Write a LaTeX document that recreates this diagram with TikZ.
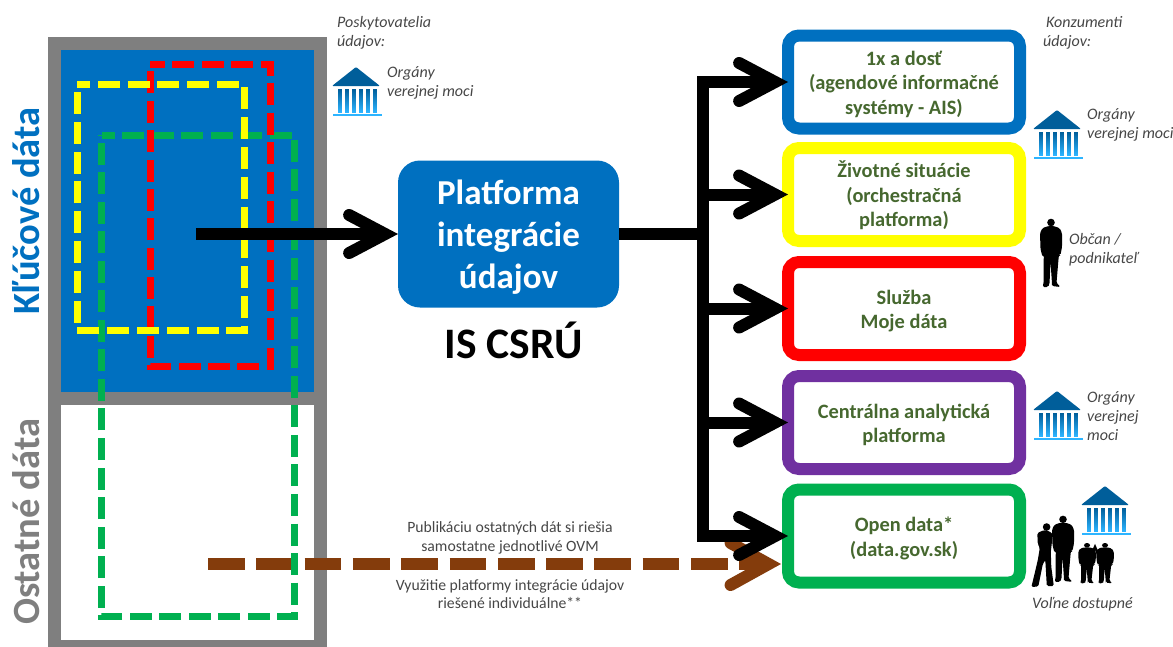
\documentclass[tikz,border=0pt]{standalone}
\usepackage{fontspec}
\setmainfont{Carlito}
\usetikzlibrary{arrows.meta}
\newcommand{\lProviders}{Poskytovatelia\\údajov:}
\newcommand{\lConsumers}{\hspace*{3pt}Konzumenti\\údajov:}
\newcommand{\lAuthorities}{Orgány\\verejnej moci}
\newcommand{\lAuthoritiesLong}{Orgány\\verejnej\\moci}
\newcommand{\lCitizen}{Občan /\\podnikateľ}
\newcommand{\lFree}{Voľne dostupné}
\newcommand{\lLift}{\rule{0pt}{19pt}}
\definecolor{themeBlue}{RGB}{0, 112, 192}
\definecolor{themeYellow}{RGB}{255, 255, 0}
\definecolor{themeRed}{RGB}{255, 0, 0}
\definecolor{themeGreen}{RGB}{0, 176, 80}
\definecolor{themePurple}{RGB}{112, 48, 160}
\definecolor{themeBrown}{RGB}{132, 60, 12}
\definecolor{themeGrey}{RGB}{127, 127, 127}
\definecolor{themeOlive}{RGB}{70, 104, 47}
\definecolor{themeNote}{RGB}{70, 70, 70}
\definecolor{themeRoof}{RGB}{0, 94, 154}
\definecolor{themeColumn}{RGB}{45, 180, 255}
\begin{document}
\begin{tikzpicture} [
        x=1pt, y=-1pt,
        barb/.tip={Straight Barb[length=36pt, width=38pt, line width=12pt, line cap=round, line join=miter]},
        flow/.style={line width=12pt, black},
        part/.style={draw=themeGrey, line width=13pt, minimum width=266pt, outer sep=0pt},
        side/.style={rotate=90, font=\fontsize{38.5}{40}\selectfont\bfseries},
        dset/.style args={#1/#2}{line width=7pt, dash pattern=on 22pt off #1pt, dash phase=#2pt},
        svc/.style={draw=#1, fill=white, line width=12pt, rounded corners=11pt, outer sep=0pt,
            minimum width=232pt, minimum height=93pt, align=center, text=themeOlive,
            font=\fontsize{20.4}{24.5}\selectfont\bfseries},
        note/.style={align=left, anchor=west, inner sep=0pt, text=themeNote,
            font=\fontsize{16}{19}\selectfont\itshape},
        remark/.style={align=center, inner sep=0pt, text=themeNote,
            font=\fontsize{15.7}{18.5}\selectfont},
        bank/.pic={
            \fill[themeRoof, rounded corners=1pt] (0,19) -- (24,0) -- (48,19) -- cycle;
            \foreach \i in {0, ..., 5} {
                \shade[top color=themeRoof, bottom color=themeColumn] (6+7*\i,22) rectangle +(3.8,23);
            }
            \fill[themeColumn] (1,47) rectangle (50,49);
        },
        person/.pic={
            \fill (0,5.5) circle (3.8);
            \fill[rounded corners=1.5pt] (-2.5,9) -- (-8.5,11) -- (-11,16) -- (-10.5,32) -- (-8.5,40) -- (-7,38)
                -- (-7.5,45) -- (-7.5,67) -- (-8.5,70) -- (-3,70) -- (-1.5,67) -- (-.5,44) -- (1,67) -- (1,69)
                -- (9.5,70) -- (5.5,66) -- (7.5,42) -- (8,38) -- (9.5,38) -- (11,30) -- (11,16) -- (8.5,11)
                -- (2.5,9) -- cycle;
        },
        woman/.pic={
            \fill (3.3,5) circle (3.8);
            \fill[rounded corners=1.5pt] (1,8) -- (-6,11) -- (-5.5,22) -- (-3.5,26) -- (-5.5,38) -- (-9.5,55)
                -- (-12,65) -- (-5,64.5) -- (-.5,42) -- (2,38) -- (3.5,64) -- (10.5,64) -- (8,45) -- (7.5,30)
                -- (9.5,12) -- (5.5,9) -- cycle;
        }
    ]

\useasboundingbox (0,0) rectangle (1173,646);

% left column
\node[part, fill=themeBlue, minimum height=355pt] (key) at (187,221) {};
\node[part, fill=white, minimum height=247.5pt] (other) at (187,522.25) {};
\node[side, text=themeBlue] (key label) at (26,211) {Kľúčové dáta};
\node[side, text=themeGrey] (other label) at (26,522) {Ostatné dáta};

% right column
\node[svc=themeBlue] (svc-1) at (904,82) {\lLift 1x a dosť\\(agendové informačné\\systémy - AIS)};
\node[svc=themeYellow] (svc-2) at (904,194.5) {\lLift Životné situácie\\(orchestračná\\platforma)};
\node[svc=themeRed] (svc-3) at (904,308.5) {\lLift Služba\\Moje dáta};
\node[svc=themePurple] (svc-4) at (904,422.5) {\lLift Centrálna analytická\\platforma};
\node[svc=themeGreen] (svc-5) at (904,536) {\lLift Open data*\\(data.gov.sk)};

\node[fill=themeBlue, text=white, rounded corners=22pt, outer sep=0pt, minimum width=221pt, minimum height=147pt,
    align=center, font=\fontsize{35}{42}\selectfont\bfseries] (platform) at (508.5,234) {\rule{0pt}{30pt}Platforma\\integrácie\\údajov};
\node[font=\fontsize{43.5}{45}\selectfont\bfseries] (csru) at (514,340) {IS CSRÚ};

\coordinate (key src) at (196,234);
\coordinate (other src) at (208,564);
\coordinate (hub) at (703,234);

\draw[line width=12pt, themeBrown, dash pattern=on 36.7pt off 11.6pt, shorten >=7pt,
    -{Straight Barb[length=38pt, width=42pt, line width=12pt, line cap=round, line join=miter]}]
    (other src) -- (svc-5.west|-other src);

\draw[themeGreen, dset=7.52/9] (101.7,135) -- (294.6,135) -- (294.6,616.7) -- (101.7,616.7) -- cycle;
\draw[themeRed, dset=7.38/7] (150,64) -- (270.5,64) -- (270.5,366) -- (150,366) -- cycle;
\draw[themeYellow, dset=7.8/9] (77,84.5) -- (244,84.5) -- (244,330) -- (77,330) -- cycle;

\draw[flow, -barb] (key src) -- (platform);
\draw[flow] (platform) -- (hub);
\foreach \i in {1, ..., 5} {
    \draw[flow, -barb] (hub) |- (svc-\i);
}

\node[remark] (publish) at (510,538) {Publikáciu ostatných dát si riešia\\samostatne jednotlivé OVM};
\node[remark] (reuse) at (510,594) {Využitie platformy integrácie údajov\\riešené individuálne**};

\node[note] (providers) at (337,33) {\lProviders};
\node[note] (consumers) at (1043,33) {\lConsumers};
\node[note] (auth-1) at (387,83) {\lAuthorities};
\node[note] (auth-2) at (1087,125) {\lAuthorities};
\node[note] (citizen) at (1069,250) {\lCitizen};
\node[note] (auth-3) at (1087,416) {\lAuthoritiesLong};
\node[note] (free) at (1032,604) {\lFree};

\pic at (332,67) {bank};
\pic at (1033,110) {bank};
\pic at (1033,391) {bank};
\pic at (1081,486) {bank};

\pic at (1051,217) {person};
\pic at (1043.3,522) {woman};
\pic[yscale=.97] at (1063,514) {person};
\pic[xscale=.8, yscale=.59] at (1087,542) {person};
\pic[xscale=.8, yscale=.59] at (1105,542) {person};
\draw[line width=2.5pt] (1092,554) -- (1095,547) -- (1098,554);

\end{tikzpicture}
\end{document}
